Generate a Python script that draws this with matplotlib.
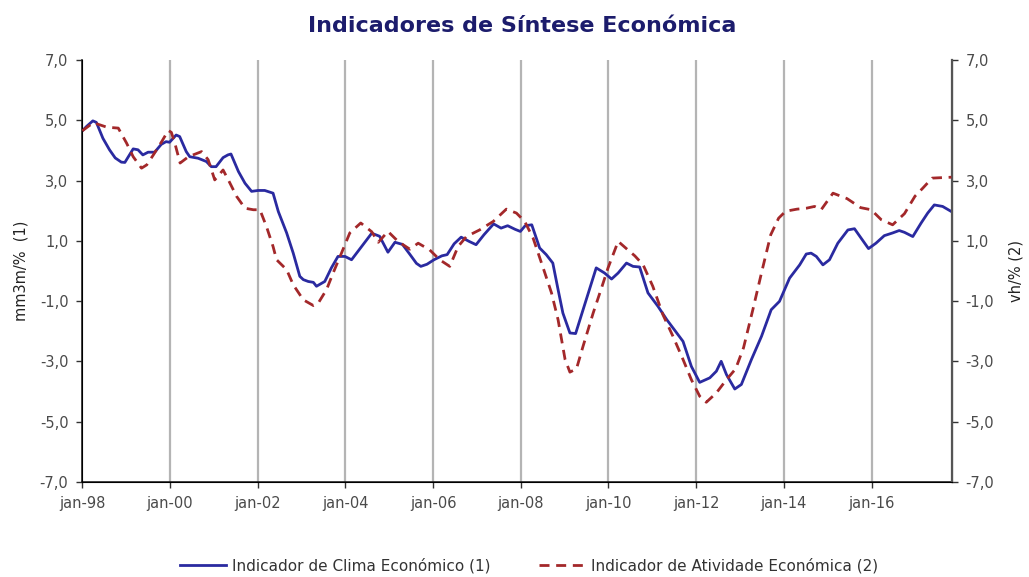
import matplotlib
matplotlib.use("Agg")
import matplotlib.pyplot as plt

plt.rcParams['font.family'] = ['DejaVu Sans']

title = "Indicadores de Síntese Económica"
label_left = "mm3m/%  (1)"
label_right = "vh/% (2)"
series_names = ["Indicador de Clima Económico (1)", "Indicador de Atividade Económica (2)"]

tick_years = [1998, 2000, 2002, 2004, 2006, 2008, 2010, 2012, 2014, 2016]
tick_labels = ["jan-98", "jan-00", "jan-02", "jan-04", "jan-06", "jan-08",
               "jan-10", "jan-12", "jan-14", "jan-16"]
y_ticks = [7, 5, 3, 1, -1, -3, -5, -7]

clima_t = [1998.00, 1998.10, 1998.24, 1998.32, 1998.47, 1998.62, 1998.75, 1998.89, 1998.97,
           1999.16, 1999.27, 1999.38, 1999.50, 1999.65, 1999.80, 1999.91, 1999.99, 2000.14,
           2000.22, 2000.37, 2000.45, 2000.64, 2000.83, 2000.94, 2001.05, 2001.21, 2001.32,
           2001.39, 2001.56, 2001.71, 2001.86, 2002.01, 2002.16, 2002.35, 2002.47, 2002.66,
           2002.81, 2002.96, 2003.04, 2003.15, 2003.27, 2003.34, 2003.53, 2003.68, 2003.83,
           2003.99, 2004.14, 2004.37, 2004.60, 2004.78, 2004.97, 2005.13, 2005.30, 2005.47,
           2005.62, 2005.72, 2005.86, 2006.02, 2006.20, 2006.32, 2006.48, 2006.64, 2006.82,
           2006.98, 2007.16, 2007.38, 2007.55, 2007.70, 2007.87, 2007.99, 2008.10, 2008.25,
           2008.43, 2008.58, 2008.73, 2008.85, 2008.96, 2009.12, 2009.25, 2009.42, 2009.72,
           2009.91, 2010.07, 2010.22, 2010.41, 2010.56, 2010.71, 2010.90, 2011.13, 2011.33,
           2011.50, 2011.70, 2011.89, 2012.08, 2012.31, 2012.46, 2012.57, 2012.69, 2012.88,
           2013.03, 2013.26, 2013.49, 2013.71, 2013.90, 2014.13, 2014.36, 2014.51, 2014.62,
           2014.74, 2014.89, 2015.04, 2015.23, 2015.46, 2015.61, 2015.76, 2015.93, 2016.10,
           2016.29, 2016.48, 2016.63, 2016.75, 2016.94, 2017.13, 2017.28, 2017.43, 2017.62,
           2017.82]
clima_v = [4.65, 4.80, 4.98, 4.93, 4.40, 4.02, 3.75, 3.61, 3.60,
           4.05, 4.02, 3.85, 3.94, 3.94, 4.20, 4.29, 4.27, 4.51,
           4.46, 3.96, 3.79, 3.74, 3.63, 3.46, 3.46, 3.76, 3.85,
           3.88, 3.30, 2.91, 2.64, 2.67, 2.67, 2.58, 1.97, 1.26,
           0.59, -0.18, -0.29, -0.35, -0.38, -0.51, -0.35, 0.10, 0.48,
           0.48, 0.37, 0.81, 1.25, 1.15, 0.62, 0.95, 0.88, 0.55,
           0.25, 0.15, 0.22, 0.37, 0.50, 0.54, 0.90, 1.12, 0.98,
           0.87, 1.20, 1.56, 1.42, 1.50, 1.38, 1.31, 1.50, 1.53,
           0.76, 0.54, 0.26, -0.62, -1.40, -2.06, -2.08, -1.29, 0.10,
           -0.07, -0.27, -0.07, 0.26, 0.15, 0.13, -0.73, -1.18, -1.62,
           -1.95, -2.34, -3.17, -3.70, -3.55, -3.33, -3.00, -3.44, -3.92,
           -3.77, -2.94, -2.17, -1.29, -1.01, -0.24, 0.20, 0.56, 0.59,
           0.48, 0.20, 0.37, 0.92, 1.36, 1.40, 1.09, 0.74, 0.92,
           1.17, 1.26, 1.34, 1.28, 1.14, 1.59, 1.92, 2.19, 2.14,
           1.97]

atividade_t = [1998.00, 1998.25, 1998.56, 1998.82, 1999.01, 1999.16, 1999.35, 1999.47, 1999.62,
               1999.81, 1999.96, 2000.03, 2000.11, 2000.23, 2000.42, 2000.72, 2000.87, 2001.02,
               2001.21, 2001.33, 2001.52, 2001.71, 2001.90, 2002.05, 2002.20, 2002.35, 2002.43,
               2002.66, 2002.81, 2003.04, 2003.27, 2003.38, 2003.57, 2003.72, 2003.91, 2004.10,
               2004.35, 2004.60, 2004.75, 2004.97, 2005.20, 2005.47, 2005.66, 2005.92, 2006.15,
               2006.38, 2006.57, 2006.76, 2007.06, 2007.37, 2007.67, 2007.90, 2008.09, 2008.28,
               2008.51, 2008.70, 2008.85, 2009.01, 2009.12, 2009.27, 2009.42, 2009.65, 2009.84,
               2009.99, 2010.22, 2010.44, 2010.60, 2010.79, 2011.01, 2011.24, 2011.47, 2011.70,
               2011.89, 2012.08, 2012.23, 2012.46, 2012.69, 2012.90, 2013.08, 2013.29, 2013.50,
               2013.70, 2013.88, 2014.04, 2014.30, 2014.51, 2014.70, 2014.85, 2015.12, 2015.44,
               2015.75, 2015.99, 2016.22, 2016.48, 2016.75, 2016.99, 2017.17, 2017.38, 2017.82]
atividade_v = [4.65, 4.92, 4.77, 4.74, 4.24, 3.79, 3.41, 3.52, 3.85,
               4.29, 4.66, 4.60, 4.24, 3.58, 3.79, 3.96, 3.69, 3.02,
               3.35, 3.02, 2.47, 2.08, 2.03, 2.03, 1.47, 0.81, 0.37,
               0.04, -0.46, -0.96, -1.15, -1.07, -0.62, -0.07, 0.59, 1.26,
               1.59, 1.30, 0.95, 1.31, 0.98, 0.72, 0.92, 0.70, 0.37,
               0.15, 0.81, 1.14, 1.36, 1.64, 2.05, 1.92, 1.64, 1.09,
               0.10, -0.73, -1.62, -2.94, -3.36, -3.25, -2.50, -1.40, -0.57,
               0.10, 0.98, 0.70, 0.50, 0.20, -0.51, -1.45, -2.17, -2.94,
               -3.61, -4.16, -4.36, -4.05, -3.61, -3.25, -2.55, -1.30, 0.00,
               1.20, 1.75, 1.98, 2.05, 2.08, 2.14, 2.03, 2.58, 2.40,
               2.10, 2.03, 1.70, 1.53, 1.90, 2.48, 2.75, 3.08, 3.11]

x_end = 2017.83
blue = "#2a2aa0"
red = "#a3282a"
tick_color = "#4a4a4a"

fig = plt.figure(figsize=(10.29, 5.77), dpi=100)
ax = fig.add_axes([0.080, 0.165, 0.845, 0.731])
ax2 = ax.twinx()

for yr in tick_years[1:]:
    ax.axvline(yr, color="#b4b4b4", lw=1.6, zorder=0)

l1, = ax.plot(clima_t, clima_v, color=blue, lw=2.0, zorder=3)
l2, = ax2.plot(atividade_t, atividade_v, color=red, lw=2.0, dashes=(3.6, 2.4), zorder=3)

for a in (ax, ax2):
    a.set_ylim(-7, 7)
    a.set_yticks(y_ticks)
    a.set_yticklabels([f"{v:.1f}".replace(".", ",") for v in y_ticks])
    a.set_xlim(1998, x_end)
    a.spines['top'].set_visible(False)
    a.tick_params(axis='y', labelsize=10.5, colors="#333333", length=4, width=1, pad=6,
                  labelcolor=tick_color)

ax.spines['left'].set_color("#222222")
ax.spines['bottom'].set_color("#222222")
ax2.spines['right'].set_color("#555555")
ax2.spines['right'].set_linewidth(1.6)
ax.spines['left'].set_linewidth(1.2)
ax.spines['bottom'].set_linewidth(1.2)

ax.set_xticks(tick_years)
ax.set_xticklabels(tick_labels)
ax.tick_params(axis='x', labelsize=10.5, length=4, width=1, colors="#333333",
               labelcolor=tick_color, pad=6)

ax.set_ylabel(label_left, fontsize=10.5, color="#222222", labelpad=8)
ax2.set_ylabel(label_right, fontsize=10.5, color="#222222", labelpad=10)

fig.text(0.507, 0.955, title, ha="center", va="center", fontsize=16, fontweight="bold",
         color="#1c1c6c")

fig.legend([l1, l2], series_names, loc="lower center", bbox_to_anchor=(0.514, -0.018), ncol=2,
           frameon=False, fontsize=11, handlelength=3.0, handletextpad=0.4,
           columnspacing=3.2, labelcolor="#333333")

fig.savefig("out.png", dpi=100)
